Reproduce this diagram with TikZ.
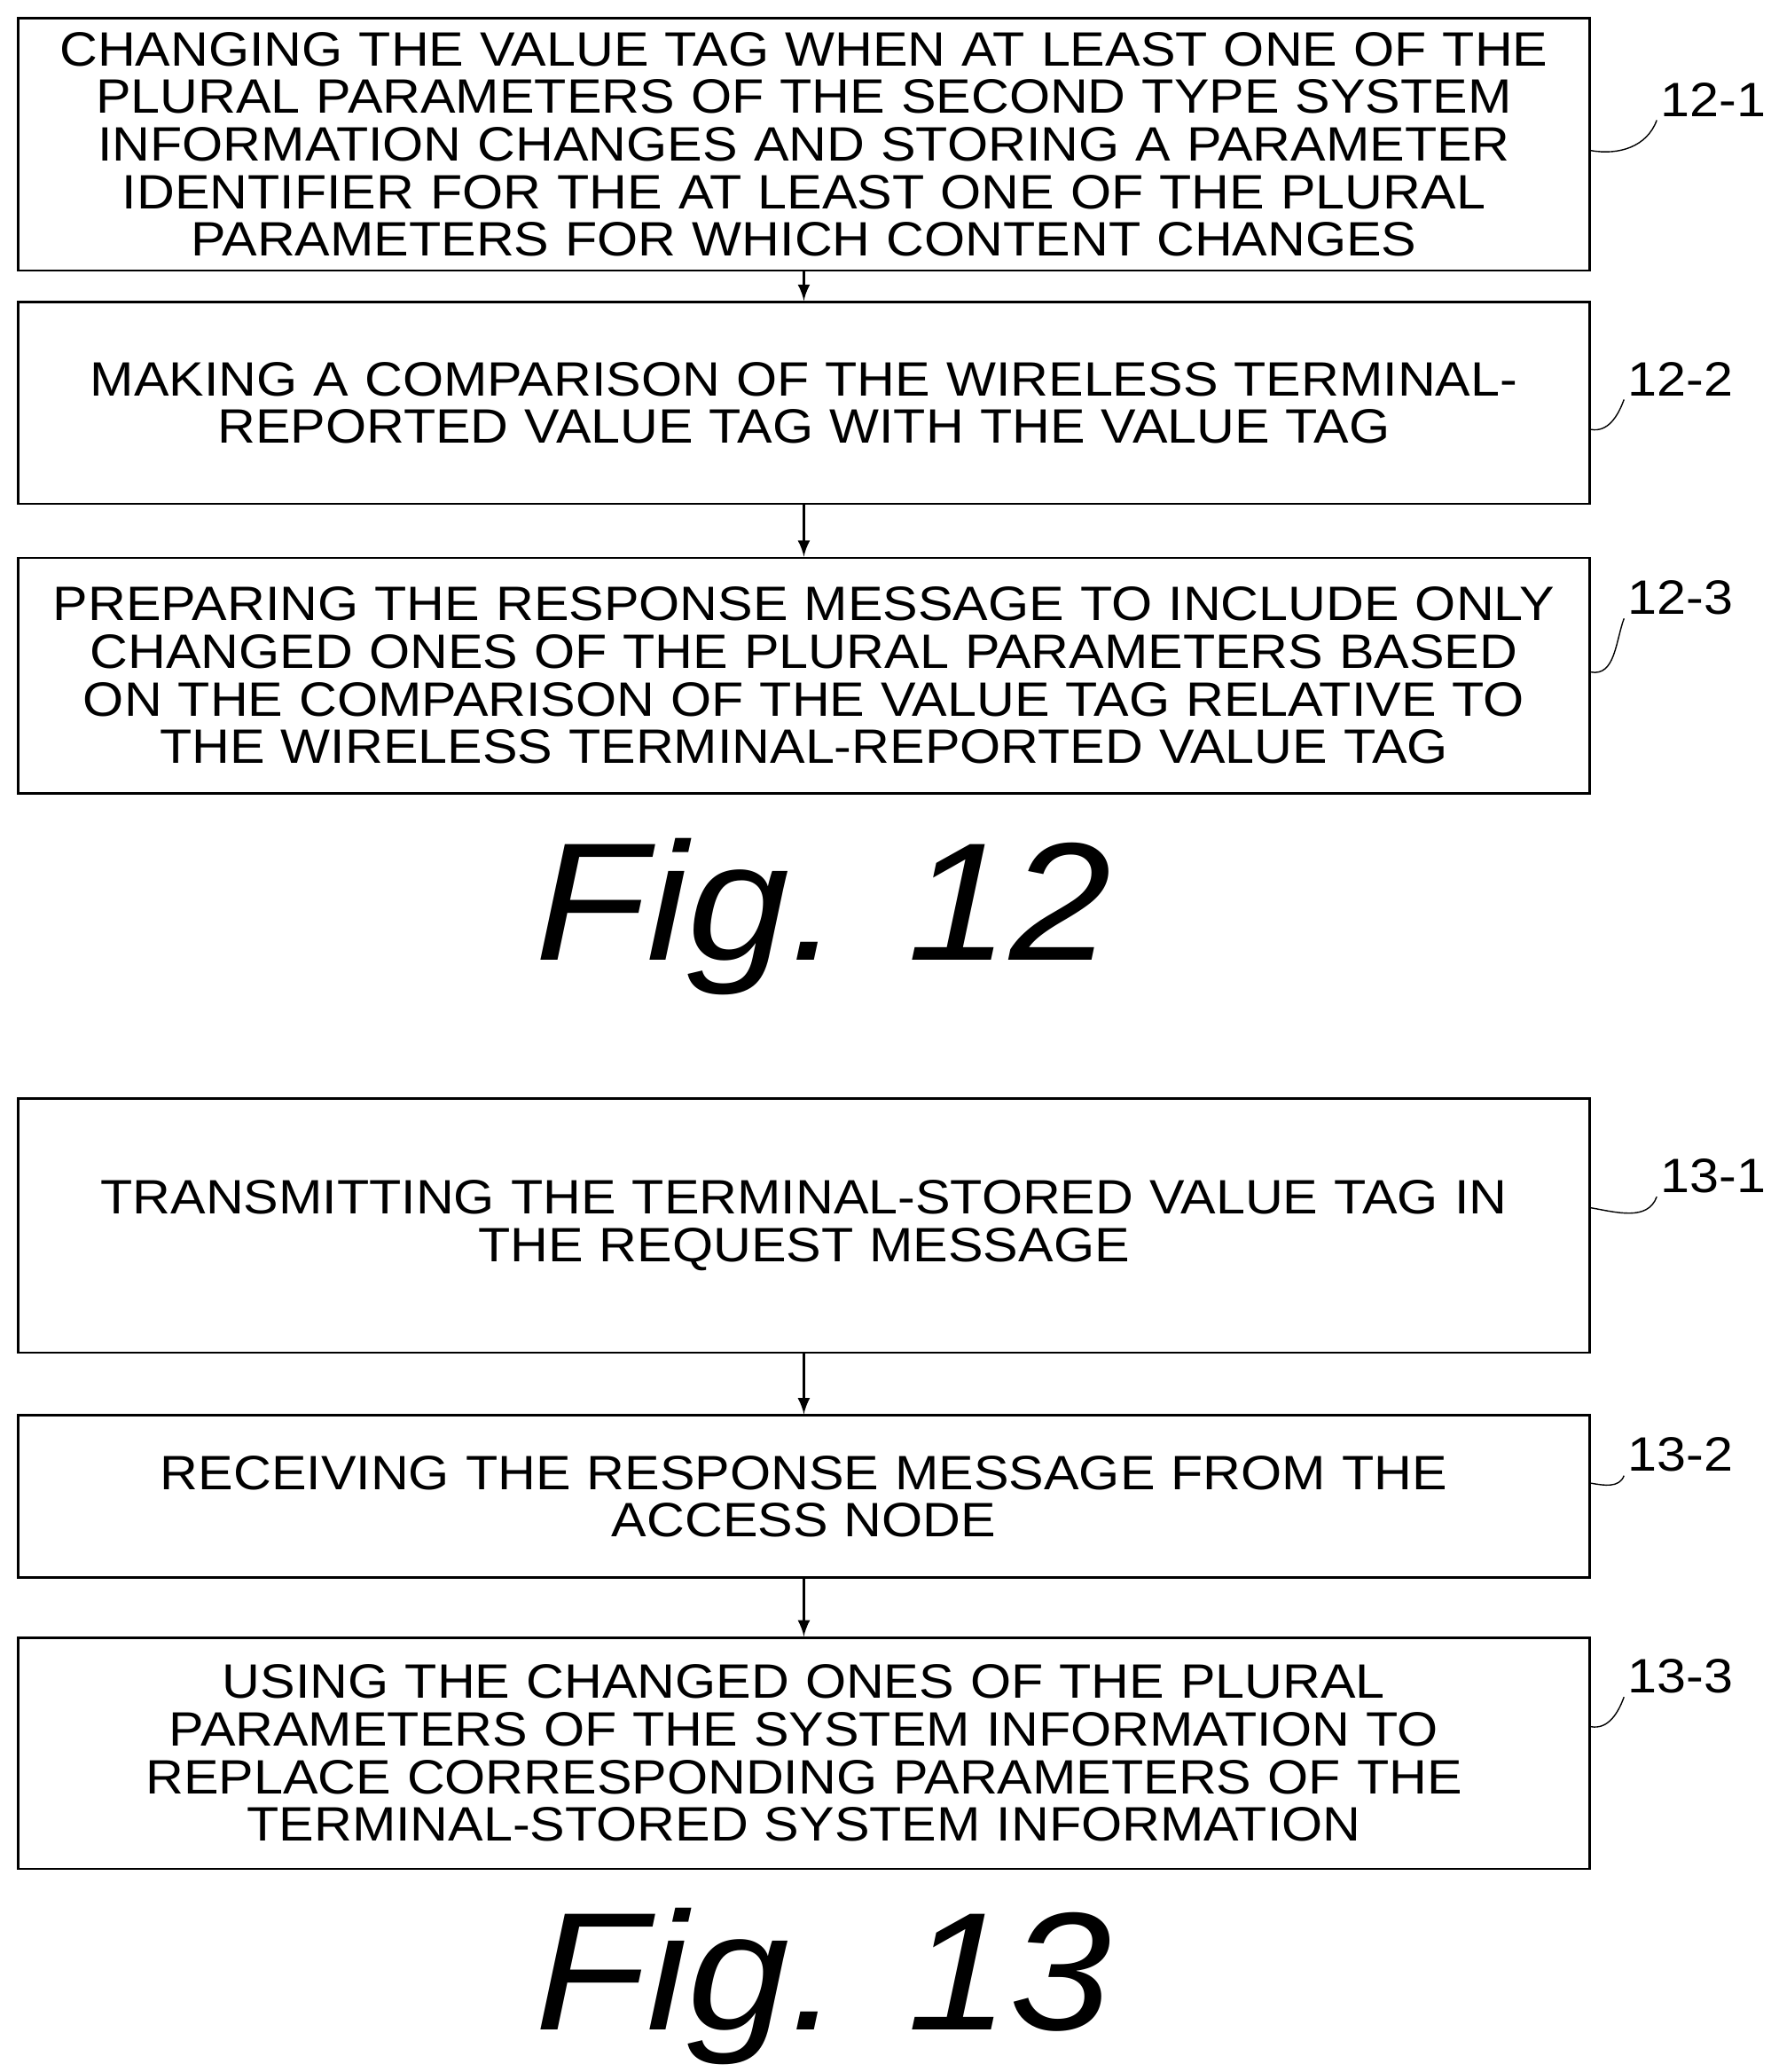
\documentclass[tikz,border=0pt]{standalone}
\usepackage{fontspec}
\setmainfont{Liberation Sans}[FakeStretch=1.09]
\usetikzlibrary{positioning}
\usetikzlibrary{calc}

\begin{document}
\begin{tikzpicture}[
		stepbox/.style = {draw, thick, rectangle, align = center, minimum width = 17.75cm, text width = 17.6cm, inner sep = 0pt, font = \fontsize{15.5}{15.3}\selectfont},
		ref/.style = {font = \fontsize{15.5}{16.5}\selectfont, inner sep = 1pt},
		lead/.style = {thin, black, -},
		flow/.style = {thick, black, -latex},
		figlabel/.style = {font = \fontsize{54}{60}\selectfont\itshape}
	]
		\useasboundingbox (0,0) rectangle (20,-23.4);
		% figure 12
		\node[stepbox, minimum height = 2.85cm] at (9.08,-1.63) (s121)
		{CHANGING THE VALUE TAG WHEN AT LEAST ONE OF THE\\
			PLURAL PARAMETERS OF THE SECOND TYPE SYSTEM\\
			INFORMATION CHANGES AND STORING A PARAMETER\\
			IDENTIFIER FOR THE AT LEAST ONE OF THE PLURAL\\
			PARAMETERS FOR WHICH CONTENT CHANGES};
		\node[stepbox, minimum height = 2.28cm] at (9.08,-4.55) (s122)
		{MAKING A COMPARISON OF THE WIRELESS TERMINAL-\\
			REPORTED VALUE TAG WITH THE VALUE TAG};
		\node[stepbox, minimum height = 2.66cm] at (9.08,-7.63) (s123)
		{PREPARING THE RESPONSE MESSAGE TO INCLUDE ONLY\\
			CHANGED ONES OF THE PLURAL PARAMETERS BASED\\
			ON THE COMPARISON OF THE VALUE TAG RELATIVE TO\\
			THE WIRELESS TERMINAL-REPORTED VALUE TAG};
		\node[figlabel] at (9.3,-10.35) (fig12) {Fig. 12};
		\node[ref] at (19.35,-1.125) (r121) {12-1};
		\node[ref] at (18.98,-4.28) (r122) {12-2};
		\node[ref] at (18.98,-6.75) (r123) {12-3};
		\draw[flow] (s121) to (s122);
		\draw[flow] (s122) to (s123);
		\draw[lead] ([yshift=-0.07cm]s121.east) to[out=-10,in=-110] (r121.south west);
		\draw[lead] ([yshift=-0.3cm]s122.east) to[out=-10,in=-110] (r122.south west);
		\draw[lead] ([yshift=0.04cm]s123.east) to[out=-10,in=-110] (r123.south west);
		% figure 13
		\node[stepbox, minimum height = 2.87cm] at (9.08,-13.84) (s131)
		{TRANSMITTING THE TERMINAL-STORED VALUE TAG IN\\
			THE REQUEST MESSAGE};
		\node[stepbox, minimum height = 1.83cm] at (9.08,-16.9) (s132)
		{RECEIVING THE RESPONSE MESSAGE FROM THE\\
			ACCESS NODE};
		\node[stepbox, minimum height = 2.61cm] at (9.08,-19.8) (s133)
		{USING THE CHANGED ONES OF THE PLURAL\\
			PARAMETERS OF THE SYSTEM INFORMATION TO\\
			REPLACE CORRESPONDING PARAMETERS OF THE\\
			TERMINAL-STORED SYSTEM INFORMATION};
		\node[figlabel] at (9.3,-22.43) (fig13) {Fig. 13};
		\node[ref] at (19.35,-13.28) (r131) {13-1};
		\node[ref] at (18.98,-16.43) (r132) {13-2};
		\node[ref] at (18.98,-18.93) (r133) {13-3};
		\draw[flow] (s131) to (s132);
		\draw[flow] (s132) to (s133);
		\draw[lead] ([yshift=0.2cm]s131.east) to[out=-10,in=-110] (r131.south west);
		\draw[lead] ([yshift=0.15cm]s132.east) to[out=-10,in=-110] (r132.south west);
		\draw[lead] ([yshift=0.3cm]s133.east) to[out=-10,in=-110] (r133.south west);
	\end{tikzpicture}
\end{document}
